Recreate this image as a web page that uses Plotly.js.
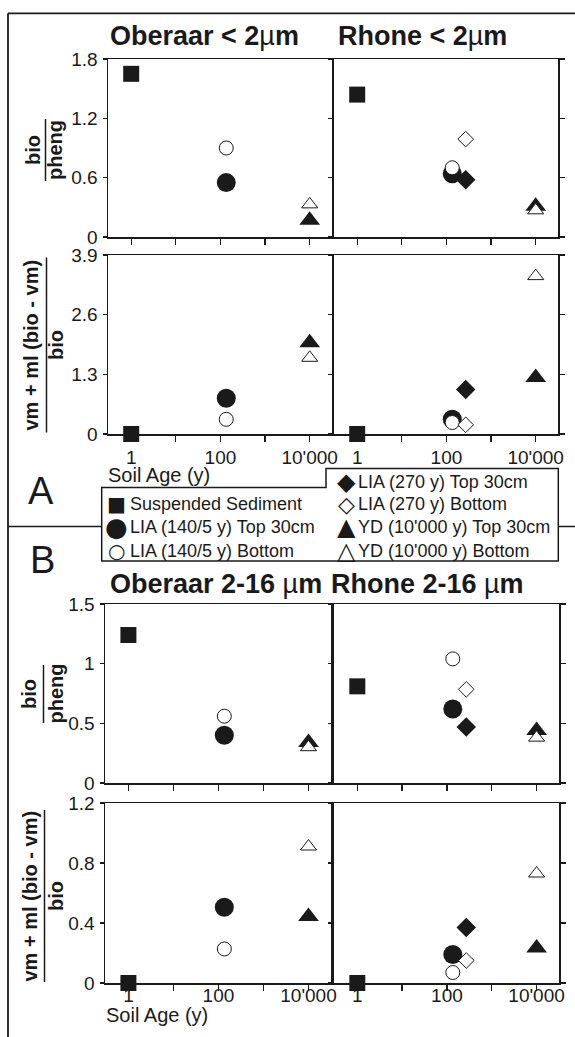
<!DOCTYPE html>
<html>
<head>
<meta charset="utf-8">
<script src="https://cdn.plot.ly/plotly-3.0.1.min.js"></script>
<style>
html,body{margin:0;padding:0;background:#fff;}
#chart{width:575px;height:1037px;}
</style>
</head>
<body>
<div id="chart"></div>
<script>
// Sample groups, in legend order
const seriesNames = ['Suspended Sediment', 'LIA (140/5 y) Top 30cm', 'LIA (140/5 y) Bottom',
  'LIA (270 y) Top 30cm', 'LIA (270 y) Bottom', "YD (10'000 y) Top 30cm", "YD (10'000 y) Bottom"];
const soilAge = [1, 135, 135, 270, 270, 10000, 10000];

// bio / pheng, < 2 µm fraction
const oberaarClayBioPheng = [1.65, 0.55, 0.90, null, null, 0.17, 0.33];
const rhoneClayBioPheng   = [1.44, 0.64, 0.70, 0.58, 0.99, 0.31, 0.27];
// (vm + ml (bio - vm)) / bio, < 2 µm fraction
const oberaarClayVermRatio = [0, 0.78, 0.32, null, null, 1.99, 1.66];
const rhoneClayVermRatio   = [0, 0.32, 0.25, 0.97, 0.20, 1.23, 3.44];
// bio / pheng, 2-16 µm fraction
const oberaarSiltBioPheng = [1.24, 0.40, 0.56, null, null, 0.34, 0.30];
const rhoneSiltBioPheng   = [0.81, 0.62, 1.04, 0.47, 0.785, 0.44, 0.38];
// (vm + ml (bio - vm)) / bio, 2-16 µm fraction
const oberaarSiltVermRatio = [0, 0.505, 0.227, null, null, 0.444, 0.91];
const rhoneSiltVermRatio   = [0, 0.19, 0.07, 0.37, 0.15, 0.233, 0.73];

// Axis ticks
const ageTickVals = [1, 10, 100, 1000, 10000];
const ageTickText = ['1', '', '100', '', "10'000"];
const bioPhengClayTicks = [0, 0.6, 1.2, 1.8];
const vermClayTicks = [0, 1.3, 2.6, 3.9];
const bioPhengSiltTicks = [0, 0.5, 1, 1.5];
const vermSiltTicks = [0, 0.4, 0.8, 1.2];

// Legend glyphs
const legendGlyphs = ['\u25A0', '\u25CF', '\u25CB', '\u25C6', '\u25C7', '\u25B2', '\u25B3'];

// ---- page geometry (pixels) ----
const W = 575, H = 1037;
const px = v => v / W;
const py = v => 1 - v / H;
const INK = '#1a1a1a';
const FONT = 'Liberation Sans, Arial, Helvetica, sans-serif';
const TICK = 19;

const markerStyles = [
  {symbol: 'square', size: 16, color: INK, line: {width: 0}},
  {symbol: 'circle', size: 19, color: INK, line: {width: 0}},
  {symbol: 'circle', size: 14, color: '#fff', line: {width: 1, color: INK}},
  {symbol: 'diamond', size: 15, color: INK, line: {width: 0}},
  {symbol: 'diamond', size: 12, color: '#fff', line: {width: 1, color: INK}},
  {symbol: 'triangle-up', size: 18, color: INK, line: {width: 0}},
  {symbol: 'triangle-up', size: 14, color: '#fff', line: {width: 1, color: INK}}
];
// filled symbols first so the open (white) ones sit on top
const drawOrder = [0, 1, 3, 5, 2, 4, 6];

const panels = [
  {values: oberaarClayBioPheng,  xp: [108, 332], yp: [59, 237],  ticks: bioPhengClayTicks, left: true,  labels: false},
  {values: rhoneClayBioPheng,    xp: [334, 558], yp: [59, 237],  ticks: bioPhengClayTicks, left: false, labels: false},
  {values: oberaarClayVermRatio, xp: [108, 332], yp: [255, 434], ticks: vermClayTicks,     left: true,  labels: true, standoff: 0.5},
  {values: rhoneClayVermRatio,   xp: [334, 558], yp: [255, 434], ticks: vermClayTicks,     left: false, labels: true, standoff: 0.5},
  {values: oberaarSiltBioPheng,  xp: [105, 331], yp: [604, 783], ticks: bioPhengSiltTicks, left: true,  labels: false},
  {values: rhoneSiltBioPheng,    xp: [334, 559], yp: [604, 783], ticks: bioPhengSiltTicks, left: false, labels: false},
  {values: oberaarSiltVermRatio, xp: [105, 331], yp: [803, 983], ticks: vermSiltTicks,     left: true,  labels: true, standoff: -11},
  {values: rhoneSiltVermRatio,   xp: [334, 559], yp: [803, 983], ticks: vermSiltTicks,     left: false, labels: true, standoff: -11}
];

const data = [];
const layout = {
  width: W, height: H,
  margin: {l: 0, r: 0, t: 0, b: 0},
  paper_bgcolor: '#fff', plot_bgcolor: '#fff',
  showlegend: false,
  font: {family: FONT, size: TICK, color: INK},
  annotations: [], shapes: []
};

panels.forEach((p, k) => {
  const n = k + 1;
  const suffix = n === 1 ? '' : String(n);
  const xa = 'x' + suffix, ya = 'y' + suffix;
  const top = p.ticks[p.ticks.length - 1];
  layout['xaxis' + suffix] = {
    type: 'log', range: [-0.52, 4.5],
    domain: [px(p.xp[0]), px(p.xp[1])],
    anchor: ya,
    tickmode: 'array', tickvals: ageTickVals, ticktext: ageTickText,
    showticklabels: p.labels,
    ticklabelstandoff: p.standoff || 0,
    ticks: 'outside', ticklen: 6, tickwidth: 1.3, tickcolor: INK,
    showline: true, mirror: true, linewidth: 1.5, linecolor: INK,
    showgrid: false, zeroline: false,
    tickfont: {family: FONT, size: TICK, color: INK},
    fixedrange: true
  };
  layout['yaxis' + suffix] = {
    range: [0, top],
    domain: [py(p.yp[1]), py(p.yp[0])],
    anchor: xa,
    tickmode: 'array', tickvals: p.ticks, ticktext: p.ticks.map(String),
    showticklabels: p.left,
    ticklabelstandoff: 1,
    ticks: 'outside', ticklen: p.left ? 4 : 5, tickwidth: 1.3, tickcolor: INK,
    showline: true, mirror: p.left ? true : 'ticks', linewidth: 1.5, linecolor: INK,
    showgrid: false, zeroline: false,
    tickfont: {family: FONT, size: TICK, color: INK},
    fixedrange: true
  };
  drawOrder.forEach(i => {
    if (p.values[i] === null) return;
    data.push({
      type: 'scatter', mode: 'markers',
      name: seriesNames[i],
      x: [soilAge[i]], y: [p.values[i]],
      xaxis: xa, yaxis: ya,
      cliponaxis: false,
      marker: markerStyles[i],
      hoverinfo: 'skip'
    });
  });
});

const ann = layout.annotations, shp = layout.shapes;
function text(t, x, y, size, opts) {
  ann.push(Object.assign({
    text: t, x: px(x), y: py(y), xref: 'paper', yref: 'paper',
    showarrow: false, xanchor: 'center', yanchor: 'middle',
    font: {family: FONT, size: size, color: INK}, borderpad: 0
  }, opts || {}));
}
function line(x0, y0, x1, y1, w) {
  shp.push({type: 'line', xref: 'paper', yref: 'paper',
    x0: px(x0), y0: py(y0), x1: px(x1), y1: py(y1),
    line: {color: INK, width: w || 1.5}});
}

// panel titles
text('<b>Oberaar &lt; 2</b>\u00B5<b>m</b>', 109, 36, 27, {xanchor: 'left'});
text('<b>Rhone &lt; 2</b>\u00B5<b>m</b>', 337, 36, 27, {xanchor: 'left'});
text('<b>Oberaar 2-16 </b>\u00B5<b>m</b>', 109, 584, 27, {xanchor: 'left'});
text('<b>Rhone 2-16 </b>\u00B5<b>m</b>', 330, 584, 27, {xanchor: 'left'});

// stacked y-axis titles (numerator / denominator)
function fraction(num, den, xNum, xDen, xBar, yc, half) {
  text('<b>' + num + '</b>', xNum, yc, 20, {textangle: -90});
  text('<b>' + den + '</b>', xDen, yc, 20, {textangle: -90});
  line(xBar, yc - half, xBar, yc + half, 1.5);
}
fraction('bio', 'pheng', 33, 55, 45.5, 150, 31);
fraction('vm + ml (bio - vm)', 'bio', 30.5, 56, 46.5, 345, 87.5);
fraction('bio', 'pheng', 29, 55.5, 43.5, 694, 29);
fraction('vm + ml (bio - vm)', 'bio', 29.5, 56, 44.5, 896, 86);

// x-axis titles
text('Soil Age (y)', 107, 475, 20, {xanchor: 'left'});
text('Soil Age (y)', 105, 1015, 20, {xanchor: 'left'});

// section letters
text('A', 41, 491, 38);
text('B', 42, 560, 38);

// frame
line(8, 13.3, 575, 13.3, 1.8);
line(8, 13.3, 8, 1037, 1.8);
line(8, 526.5, 101.7, 526.5, 1.5);
line(558.3, 526.5, 575, 526.5, 1.5);

// legend box (stepped outline)
shp.push({type: 'path', xref: 'paper', yref: 'paper',
  path: 'M' + px(101.7) + ',' + py(487.5) + ' L' + px(326) + ',' + py(487.5) +
        ' L' + px(326) + ',' + py(468.5) + ' L' + px(558.3) + ',' + py(468.5) +
        ' L' + px(558.3) + ',' + py(561) + ' L' + px(101.7) + ',' + py(561) + ' Z',
  line: {color: INK, width: 1.5}, fillcolor: 'rgba(0,0,0,0)'});

// legend entries: [series index, symbol x, text x, row y, glyph size]
const legendRows = [
  [0, 116, 128.5, 503.5, 20],
  [1, 116, 128.5, 527.3, 26],
  [2, 116, 128.5, 550.5, 20],
  [3, 346.5, 357, 481.5, 24],
  [4, 346.5, 357, 504, 22],
  [5, 346.5, 357, 527.3, 24],
  [6, 346.5, 357, 550.5, 24]
];
legendRows.forEach(r => {
  text(legendGlyphs[r[0]], r[1], r[3], r[4], {font: {family: 'DejaVu Sans', size: r[4], color: INK}});
  text(seriesNames[r[0]], r[2], r[3], 18, {xanchor: 'left'});
});

Plotly.newPlot('chart', data, layout, {displayModeBar: false, staticPlot: true});
</script>
</body>
</html>
